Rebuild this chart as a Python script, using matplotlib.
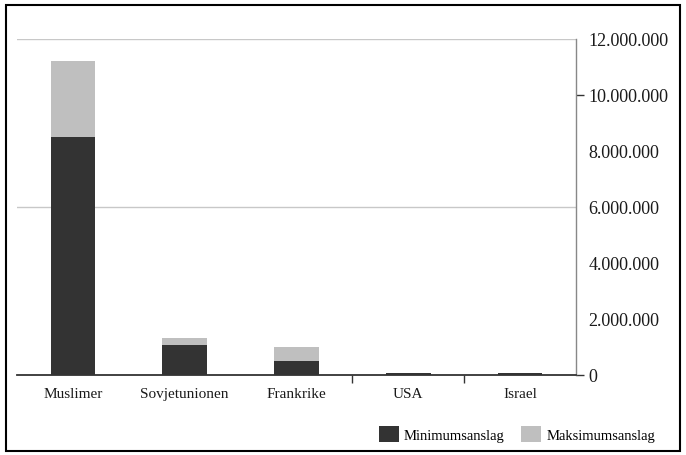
import matplotlib
matplotlib.use("Agg")
import matplotlib.pyplot as plt
from matplotlib.patches import Rectangle

categories = ["Muslimer", "Sovjetunionen", "Frankrike", "USA", "Israel"]
minimum = [8_480_000, 1_050_000, 500_000, 60_000, 60_000]
maximum = [11_180_000, 1_300_000, 1_000_000, 60_000, 60_000]
yticks = [0, 2_000_000, 4_000_000, 6_000_000, 8_000_000, 10_000_000, 12_000_000]
ytick_labels = ["0", "2.000.000", "4.000.000", "6.000.000", "8.000.000", "10.000.000", "12.000.000"]

plt.rcParams["font.family"] = ["Liberation Serif", "DejaVu Serif"]

W, H = 686, 456
fig = plt.figure(figsize=(W / 100, H / 100), dpi=100)
ax = fig.add_axes([17 / W, 1 - 375.5 / H, (576 - 17) / W, (375.5 - 39.5) / H])

dark = "#333333"
light = "#bfbfbf"
x = list(range(len(categories)))
extra = [mx - mn for mx, mn in zip(maximum, minimum)]
ax.bar(x, minimum, width=0.40, color=dark, label="Minimumsanslag", zorder=3)
ax.bar(x, extra, bottom=minimum, width=0.40, color=light, label="Maksimumsanslag", zorder=3)

ax.set_xlim(-0.5, len(categories) - 0.5)
ax.set_ylim(0, 12_000_000)

for g in (6_000_000, 12_000_000):
    ax.axhline(g, color="#c8c8c8", lw=1.0, zorder=1)

ax.yaxis.tick_right()
ax.yaxis.remove_overlapping_locs = False
ax.set_yticks(yticks)
ax.set_yticklabels(ytick_labels, fontsize=13, color="#1a1a1a")
ax.tick_params(axis="y", which="major", length=0, pad=9)
ax.set_yticks([0, 10_000_000], minor=True)
ax.tick_params(axis="y", which="minor", length=6, width=1.0, color="#333333",
               direction="out", right=True, left=False)

ax.set_xticks(x)
ax.set_xticklabels(categories, fontsize=11, color="#1a1a1a")
ax.tick_params(axis="x", which="major", length=0, pad=9)
ax.set_xticks([2.5, 3.5], minor=True)
ax.tick_params(axis="x", which="minor", length=6, width=1.0, color="#333333", direction="out")

for s in ("top", "left"):
    ax.spines[s].set_visible(False)
ax.spines["right"].set_color("#888888")
ax.spines["right"].set_linewidth(1.0)
ax.spines["bottom"].set_color("#333333")
ax.spines["bottom"].set_linewidth(1.3)

fig.legend(loc="center right", bbox_to_anchor=(655 / W, 1 - 435 / H), ncol=2,
           frameon=False, fontsize=10.5, handlelength=1.35, handleheight=1.35,
           handletextpad=0.35, columnspacing=1.15, borderpad=0, borderaxespad=0)

fig.patches.append(Rectangle((6 / W, 1 - 452 / H), (680 - 6) / W, (452 - 6) / H,
                             transform=fig.transFigure, fill=False, edgecolor="black", lw=1.5))

fig.savefig("out.png", dpi=100)
